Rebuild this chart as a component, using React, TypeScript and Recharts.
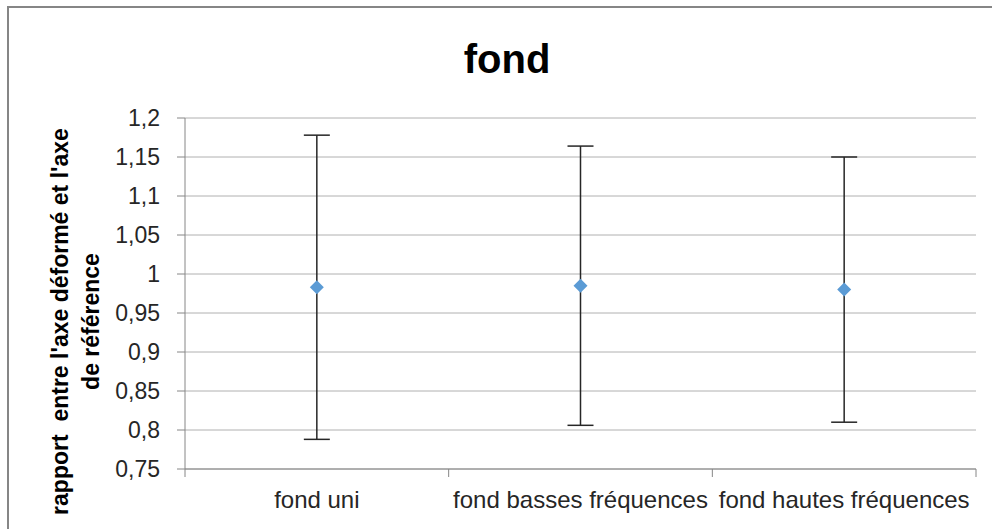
import { ComposedChart, Scatter, ErrorBar, XAxis, YAxis, CartesianGrid, Label } from "recharts";

const categories = ["fond uni", "fond basses fréquences", "fond hautes fréquences"];
const means = [0.983, 0.985, 0.98];
const errors = [0.195, 0.179, 0.17];
const yTicks = [0.75, 0.8, 0.85, 0.9, 0.95, 1, 1.05, 1.1, 1.15, 1.2];

const FONT = "'Liberation Sans', Arial, sans-serif";

const data = categories.map((name, i) => ({ name, x: i + 0.5, y: means[i], err: errors[i] }));

// boundaries between categories get a tick mark, the centers get the label
const xTicks: number[] = [];
categories.forEach((_, i) => {
  xTicks.push(i, i + 0.5);
});
xTicks.push(categories.length);

const fmt = (v: number) => String(parseFloat(v.toFixed(2))).replace(".", ",");

function XTick(props: any) {
  const { x, y, payload } = props;
  const v = payload.value;
  if (Number.isInteger(v)) {
    return <line x1={x} x2={x} y1={y} y2={y + 8} stroke="#868686" strokeWidth={1} />;
  }
  return (
    <text x={x} y={y + 39} textAnchor="middle" fontSize={24} fontFamily={FONT} fill="#262626">
      {categories[Math.floor(v)]}
    </text>
  );
}

function Diamond(props: any) {
  const { cx, cy } = props;
  const r = 7;
  return (
    <polygon
      points={`${cx},${cy - r} ${cx + r},${cy} ${cx},${cy + r} ${cx - r},${cy}`}
      fill="#5b9bd5"
    />
  );
}

function YLabel(props: any) {
  const vb = props.viewBox;
  const cy = vb.y + vb.height / 2 + 28;
  const x1 = vb.x + 59;
  const x2 = vb.x + 90;
  return (
    <g fontFamily={FONT} fontSize={23} fontWeight="bold" fill="#000">
      <text x={x1} y={cy} textAnchor="middle" transform={`rotate(-90, ${x1}, ${cy})`} xmlSpace="preserve">
        rapport  entre l'axe déformé et l'axe
      </text>
      <text x={x2} y={cy} textAnchor="middle" transform={`rotate(-90, ${x2}, ${cy})`}>
        de référence
      </text>
    </g>
  );
}

export default function App() {
  return (
    <div
      style={{
        position: "fixed",
        left: 7,
        top: 6,
        width: 983,
        height: 521,
        borderTop: "2px solid #868686",
        borderLeft: "2px solid #868686",
        background: "#fff",
      }}
    >
      <div
        style={{
          position: "absolute",
          top: 31,
          left: 0,
          width: 996,
          textAlign: "center",
          fontFamily: FONT,
          fontWeight: "bold",
          fontSize: 40,
          lineHeight: "40px",
          color: "#000",
        }}
      >
        fond
      </div>
      <ComposedChart
        width={983}
        height={521}
        data={data}
        margin={{ top: 110, right: 16, bottom: 0, left: 0 }}
      >
        <CartesianGrid vertical={false} stroke="#b0b0b0" strokeWidth={1} />
        <XAxis
          dataKey="x"
          type="number"
          domain={[0, categories.length]}
          ticks={xTicks}
          interval={0}
          tick={<XTick />}
          tickLine={false}
          tickSize={0}
          tickMargin={0}
          axisLine={{ stroke: "#868686" }}
          height={60}
        />
        <YAxis
          type="number"
          domain={[0.75, 1.2]}
          ticks={yTicks}
          interval={0}
          tickFormatter={fmt}
          width={176}
          tickSize={8}
          tickMargin={17}
          tick={{ fontSize: 23, fontFamily: FONT, fill: "#262626" }}
          tickLine={{ stroke: "#868686" }}
          axisLine={{ stroke: "#868686" }}
        >
          <Label content={YLabel} />
        </YAxis>
        <Scatter dataKey="y" shape={<Diamond />} isAnimationActive={false}>
          <ErrorBar dataKey="err" direction="y" width={13} stroke="#262626" strokeWidth={1.5} isAnimationActive={false} />
        </Scatter>
      </ComposedChart>
    </div>
  );
}
